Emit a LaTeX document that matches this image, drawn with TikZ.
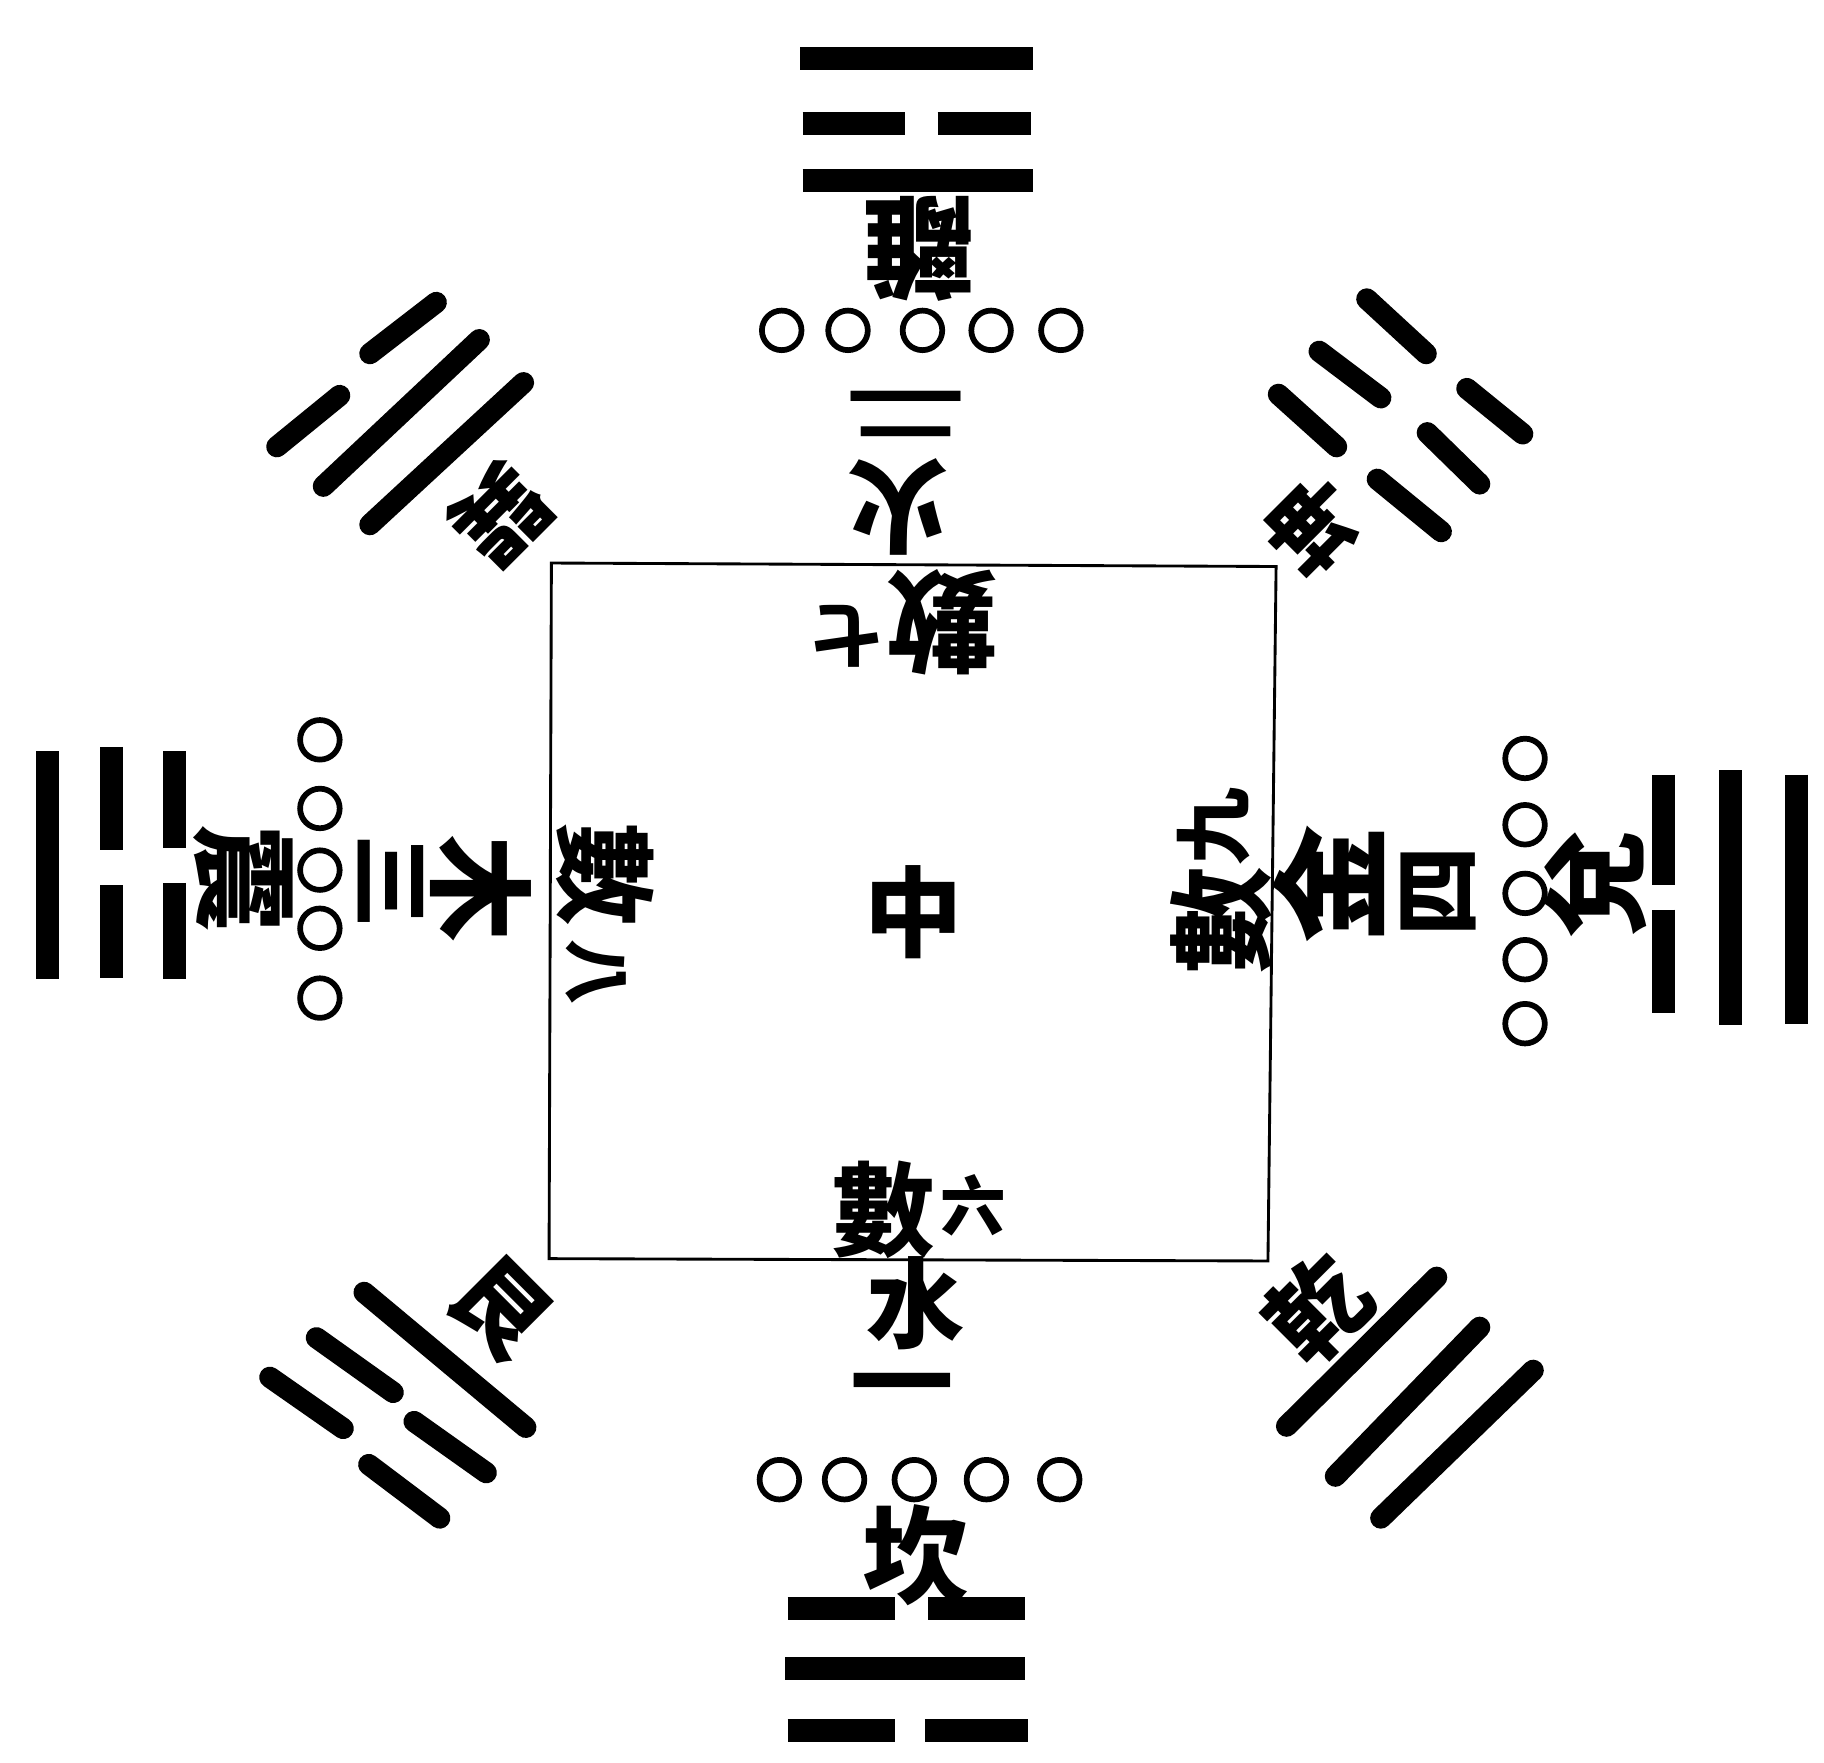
\documentclass[tikz,border=0pt]{standalone}
\usepackage{fontspec}
\newfontfamily\cjk{Noto Sans CJK TC}
\begin{document}
\begin{tikzpicture}[x=0.01cm,y=-0.01cm,
  zh/.style={font=\cjk\bfseries\fontsize{#1}{#1}\selectfont, inner sep=0pt},
  bar/.style={line width=5.6pt, line cap=butt},
  dbar/.style={line width=5.2pt, line cap=round},
  dot/.style={circle, draw, line width=1.4pt, minimum size=0.34cm, inner sep=0pt},
  frame/.style={line width=0.7pt}]
\useasboundingbox (0,0) rectangle (1568,1515);
\fill[white] (0,0) rectangle (1568,1515);

% central square
\draw[frame] (474,484) -- (1097,487) -- (1090,1084) -- (472,1082) -- cycle;
\node[zh=24pt] (zhong) at (785,784) {中};

% ---- South (top): Li
\draw[bar] (688,50) -- (888,50);
\draw[bar] (690,106) -- (778,106);
\draw[bar] (806,106) -- (886,106);
\draw[bar] (690,155) -- (888,155);
\node[zh=27pt, rotate=180] (li) at (790,214) {離};
\foreach \x [count=\i] in {672,729,793,852,912}
  \node[dot] (ts\i) at (\x,284) {};
\node[zh=15pt, rotate=180] (er) at (779,356) {\scalebox{2}[1]{二}};
\node[zh=25pt, rotate=180] (huo) at (772,436) {火};
\node[zh=17pt, rotate=180] (qi) at (728,547) {七};
\node[zh=27pt, rotate=180] (shuS) at (810,535) {數};

% ---- North (bottom): Kan
\node[zh=25pt] (shuN) at (760,1040) {數};
\node[zh=16pt] (liu) at (837,1036) {六};
\node[zh=24pt] (shui) at (787,1120) {水};
\node[zh=22pt, anchor=base] (yi) at (776,1217) {\smash{\scalebox{1.15}[1]{一}}};
\foreach \x [count=\i] in {670,726,786,848,911}
  \node[dot] (bs\i) at (\x,1272) {};
\node[zh=26pt] (kan) at (787,1337) {坎};
\draw[bar] (677,1383) -- (769,1383);
\draw[bar] (798,1383) -- (881,1383);
\draw[bar] (675,1434) -- (881,1434);
\draw[bar] (677,1488) -- (769,1488);
\draw[bar] (795,1488) -- (884,1488);

% ---- East (left): Zhen
\draw[bar] (41,646) -- (41,842);
\draw[bar] (96,642) -- (96,731);
\draw[bar] (96,761) -- (96,841);
\draw[bar] (150,646) -- (150,729);
\draw[bar] (150,759) -- (150,842);
\node[zh=26pt, rotate=-90] (zhen) at (209,755) {震};
\foreach \y [count=\i] in {636,695,748,798,858}
  \node[dot] (ls\i) at (275,\y) {};
\node[zh=20pt, rotate=-90] (san) at (336,758) {\scalebox{1.15}[1]{三}};
\node[zh=26pt, rotate=-90] (mu) at (413,764) {木};
\node[zh=25pt, rotate=-90] (shuE) at (520,752) {數};
\node[zh=16pt, rotate=-90] (ba) at (512,836) {八};

% ---- West (right): Dui
\node[zh=26pt, rotate=90] (shuW) at (1050,791) {數};
\node[zh=19pt, rotate=90] (jiu) at (1043,711) {九};
\node[zh=29pt, rotate=90] (jin) at (1142,760) {金};
\node[zh=22pt, rotate=90] (si) at (1237,766) {四};
\foreach \y [count=\i] in {652,709,768,825,880}
  \node[dot] (rs\i) at (1311,\y) {};
\node[zh=26pt, rotate=90] (dui) at (1372,760) {兌};
\draw[bar] (1430,666) -- (1430,761);
\draw[bar] (1430,782) -- (1430,871);
\draw[bar] (1488,662) -- (1488,881);
\draw[bar] (1544,666) -- (1544,880);

% ---- South-East (top-left): Xun
\draw[dbar] (238,384) -- (292,340);
\draw[dbar] (318,304) -- (375,260);
\draw[dbar] (278,418) -- (412,292);
\draw[dbar] (318,451) -- (450,329);
\node[zh=23pt, rotate=-135] (xun) at (430,443) {巽};

% ---- South-West (top-right): Kun
\draw[dbar] (1175,257) -- (1226,304);
\draw[dbar] (1261,334) -- (1309,373);
\draw[dbar] (1134,302) -- (1187,342);
\draw[dbar] (1227,372) -- (1272,416);
\draw[dbar] (1099,339) -- (1149,384);
\draw[dbar] (1184,412) -- (1239,457);
\node[zh=22pt, rotate=135] (kun) at (1128,452) {坤};

% ---- North-East (bottom-left): Gen
\draw[dbar] (313,1111) -- (452,1227);
\draw[dbar] (272,1150) -- (338,1197);
\draw[dbar] (356,1222) -- (418,1266);
\draw[dbar] (232,1184) -- (295,1228);
\draw[dbar] (317,1259) -- (378,1305);
\node[zh=23pt, rotate=-45] (gen) at (430,1125) {艮};

% ---- North-West (bottom-right): Qian
\draw[dbar] (1106,1226) -- (1235,1098);
\draw[dbar] (1148,1269) -- (1272,1141);
\draw[dbar] (1187,1305) -- (1318,1178);
\node[zh=24pt, rotate=45] (qian) at (1133,1125) {乾};
\end{tikzpicture}
\end{document}
